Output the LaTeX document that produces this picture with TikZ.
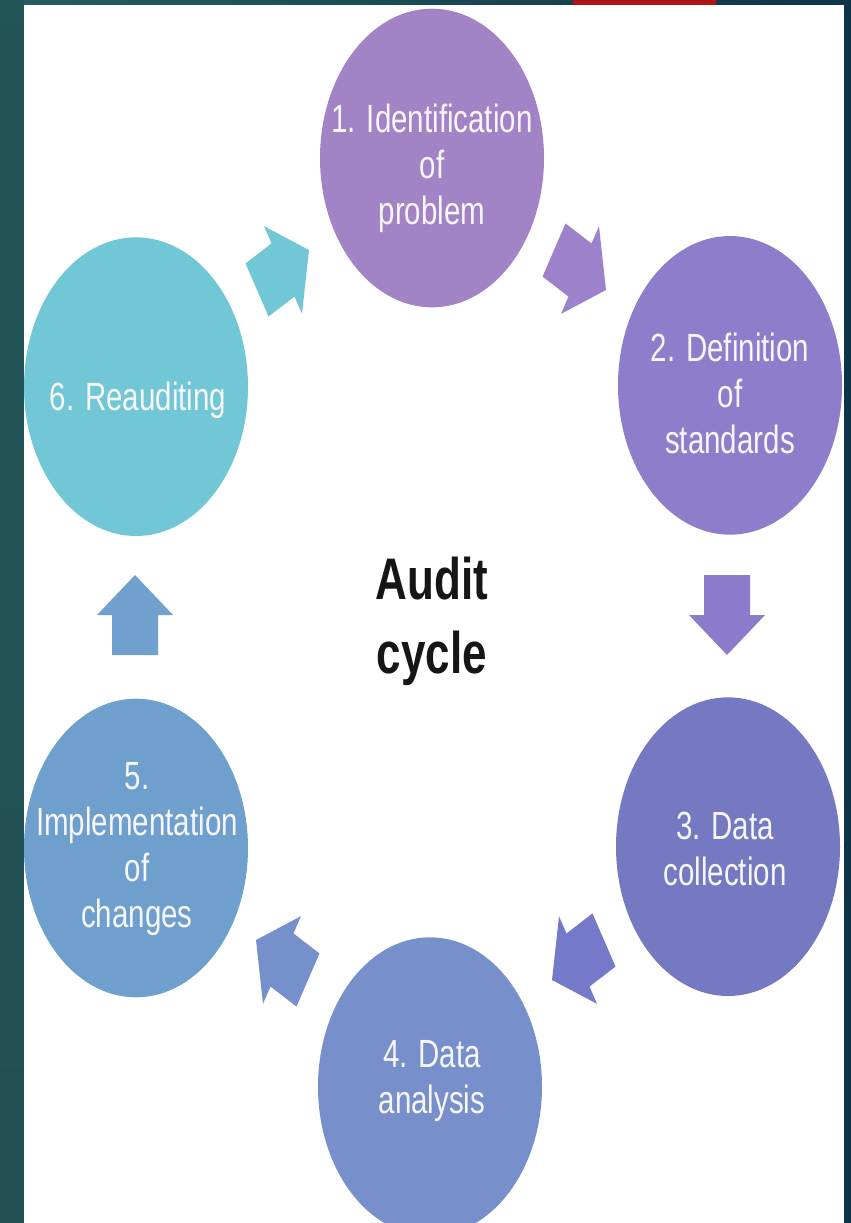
\documentclass[tikz,border=0pt]{standalone}
\usepackage{fontspec}
\newfontfamily\arialish{Liberation Sans}
\definecolor{frameteal}{HTML}{265E61}
\definecolor{frametealmid}{HTML}{326C6A}
\definecolor{framenavy}{HTML}{0E3447}
\definecolor{tabred}{HTML}{B31212}
\definecolor{labelwhite}{HTML}{F6F6F6}
\definecolor{titleblack}{HTML}{161616}
\definecolor{stepone}{HTML}{A283C6}
\definecolor{steptwo}{HTML}{8D7DCB}
\definecolor{stepthree}{HTML}{7479C2}
\definecolor{stepfour}{HTML}{7790CB}
\definecolor{stepfive}{HTML}{6FA0CD}
\definecolor{stepsix}{HTML}{72C7D7}
\definecolor{arrowonetwo}{HTML}{9C82CA}
\definecolor{arrowtwothree}{HTML}{8A7BCB}
\definecolor{arrowthreefour}{HTML}{7579C9}
\definecolor{arrowfourfive}{HTML}{7690CC}
\definecolor{arrowfivesix}{HTML}{6FA0CE}
\definecolor{arrowsixone}{HTML}{72C7D7}
\begin{document}
\begin{tikzpicture}[x=1pt,y=-1pt,
  stepcircle/.style={circle, minimum size=224pt, inner sep=0pt, fill=#1},
  steplabel/.style={text=labelwhite, align=center, inner sep=0pt,
    font=\arialish\fontsize{29.5}{34.5}\selectfont},
  blockarrow/.style={fill=#1},
]
\useasboundingbox (0,0) rectangle (851,1223);
% slide frame
\shade[left color=frameteal, right color=framenavy] (0,0) rectangle (851,1223);
\shade[top color=frameteal!90!black, middle color=frametealmid, bottom color=frameteal!85!black]
  (0,0) rectangle (24,1223);
\fill[white] (24,5) rectangle (844,1223);
\fill[tabred] (573,0) rectangle (716,5);

\begin{scope}
\clip (24,5) rectangle (844,1223);
% cycle drawn in an upright frame, then stretched vertically
\begin{scope}[shift={(432,620)}, y=1pt, yscale=1.3333, transform shape]
  \node[stepcircle=stepone]   (c1) at (0,346.5)   {};
  \node[stepcircle=steptwo]   (c2) at (298,176)   {};
  \node[stepcircle=stepthree] (c3) at (296,-170)  {};
  \node[stepcircle=stepfour]  (c4) at (-2,-350)   {};
  \node[stepcircle=stepfive]  (c5) at (-296,-171) {};
  \node[stepcircle=stepsix]   (c6) at (-296,175)  {};

  \node[steplabel] (l1) at (0,339)     {1. Identification\\of\\problem};
  \node[steplabel] (l2) at (298,170)   {2. Definition\\of\\standards};
  \node[steplabel] (l3) at (293,-172)  {3. Data\\collection};
  \node[steplabel] (l4) at (0,-346)    {4. Data\\analysis};
  \node[steplabel] (l5) at (-295,-172) {5.\\Implementation\\of\\changes};
  \node[steplabel] (l6) at (-294,165)  {6. Reauditing};

  \node[text=titleblack, align=center, inner sep=0pt,
        font=\arialish\bfseries\fontsize{44}{55.5}\selectfont] (title) at (0,-1) {Audit\\cycle};

  % block arrows between the steps
  \foreach \pos/\ang/\col in {{(148,262.5)}/-30/arrowonetwo,
                              {(295,3.75)}/-90/arrowtwothree,
                              {(146,-255)}/-150/arrowthreefour,
                              {(-150,-255)}/150/arrowfourfive,
                              {(-297,3.75)}/90/arrowfivesix,
                              {(-149,262.5)}/30/arrowsixone}
    \fill[blockarrow=\col, shift={\pos}, rotate=\ang]
      (-30,-23) -- (0,-23) -- (0,-38) -- (30,0) -- (0,38) -- (0,23) -- (-30,23) -- cycle;
\end{scope}
\end{scope}
\end{tikzpicture}
\end{document}
